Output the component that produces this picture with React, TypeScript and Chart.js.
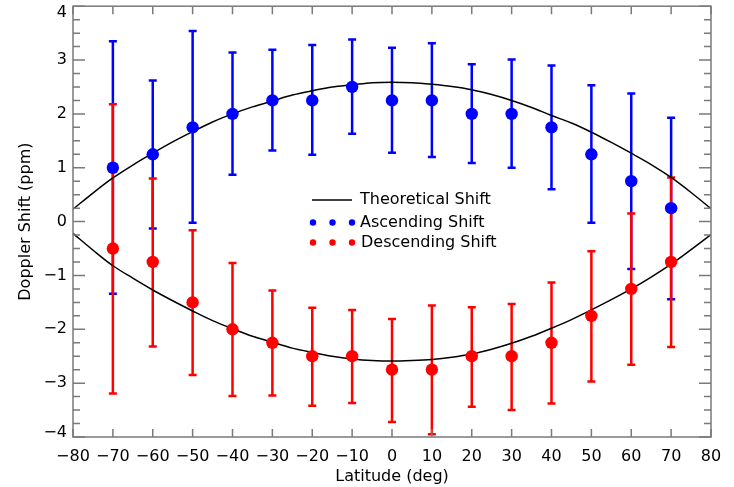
import React, { useEffect, useRef } from "react";
import { Chart, registerables } from "chart.js";

Chart.register(...registerables);

// ---- data ----
const latitudes = [-70, -60, -50, -40, -30, -20, -10, 0, 10, 20, 30, 40, 50, 60, 70];

const ascending = [1.0, 1.25, 1.75, 2.0, 2.25, 2.25, 2.5, 2.25, 2.25, 2.0, 2.0, 1.75, 1.25, 0.75, 0.25];
const ascendingHigh = [3.35, 2.62, 3.54, 3.14, 3.19, 3.28, 3.38, 3.23, 3.31, 2.92, 3.01, 2.9, 2.53, 2.38, 1.93];
const ascendingLow = [-1.34, -0.13, -0.02, 0.87, 1.32, 1.24, 1.63, 1.28, 1.2, 1.09, 1.0, 0.6, -0.02, -0.88, -1.44];

const descending = [-0.5, -0.75, -1.5, -2.0, -2.25, -2.5, -2.5, -2.75, -2.75, -2.5, -2.5, -2.25, -1.75, -1.25, -0.75];
const descendingHigh = [2.18, 0.8, -0.16, -0.77, -1.28, -1.6, -1.64, -1.81, -1.56, -1.59, -1.53, -1.13, -0.55, 0.15, 0.82];
const descendingLow = [-3.19, -2.32, -2.85, -3.24, -3.23, -3.42, -3.37, -3.72, -3.95, -3.44, -3.5, -3.38, -2.97, -2.66, -2.33];

const theoryLatitudes = [
  -80, -75, -70, -65, -60, -55, -50, -45, -40, -35, -30, -25, -20, -15, -10, -5, 0,
  5, 10, 15, 20, 25, 30, 35, 40, 45, 50, 55, 60, 65, 70, 75, 80,
];
const theoryUpper = [
  0.23, 0.53, 0.81, 1.05, 1.27, 1.48, 1.67, 1.85, 2.0, 2.13, 2.24, 2.35, 2.43, 2.5, 2.54, 2.58, 2.59,
  2.58, 2.55, 2.51, 2.45, 2.36, 2.25, 2.12, 1.97, 1.83, 1.66, 1.47, 1.27, 1.06, 0.82, 0.54, 0.24,
];
const theoryLower = [
  -0.22, -0.53, -0.82, -1.05, -1.27, -1.47, -1.66, -1.84, -1.99, -2.13, -2.24, -2.35, -2.43, -2.5, -2.55, -2.58, -2.59,
  -2.58, -2.56, -2.52, -2.46, -2.37, -2.26, -2.13, -1.98, -1.82, -1.64, -1.45, -1.25, -1.03, -0.79, -0.52, -0.24,
];

const yMinorTicks = [
  -3.75, -3.5, -3.25, -2.75, -2.5, -2.25, -1.75, -1.5, -1.25, -0.75, -0.5, -0.25,
  0.25, 0.5, 0.75, 1.25, 1.5, 1.75, 2.25, 2.5, 2.75, 3.25, 3.5, 3.75,
];

const legendLabels = ["Theoretical Shift", "Ascending Shift", "Descending Shift"];

const BLUE = "#0000ff";
const RED = "#ff0000";
const FRAME = "#7a7a7a";
const FONT = "'DejaVu Sans', sans-serif";

const fmt = (v: number) => (v < 0 ? "\u2212" + Math.abs(v) : String(v));

const errorBarPlugin = {
  id: "errorBars",
  beforeDatasetsDraw(chart: any) {
    const { ctx, scales } = chart;
    const xs = scales.x;
    const ys = scales.y;
    const drawSet = (hi: number[], lo: number[], color: string) => {
      ctx.save();
      ctx.strokeStyle = color;
      ctx.lineWidth = 2.5;
      ctx.beginPath();
      latitudes.forEach((lat, i) => {
        const px = xs.getPixelForValue(lat);
        const pHi = ys.getPixelForValue(hi[i]);
        const pLo = ys.getPixelForValue(lo[i]);
        ctx.moveTo(px, pHi);
        ctx.lineTo(px, pLo);
        ctx.moveTo(px - 4, pHi);
        ctx.lineTo(px + 4, pHi);
        ctx.moveTo(px - 4, pLo);
        ctx.lineTo(px + 4, pLo);
      });
      ctx.stroke();
      ctx.restore();
    };
    drawSet(ascendingHigh, ascendingLow, BLUE);
    drawSet(descendingHigh, descendingLow, RED);
  },
};

const framePlugin = {
  id: "frameTicks",
  afterDatasetsDraw(chart: any) {
    const { ctx, chartArea: a, scales } = chart;
    const xs = scales.x;
    const ys = scales.y;
    ctx.save();
    ctx.strokeStyle = FRAME;
    ctx.lineWidth = 1.5;
    ctx.strokeRect(a.left, a.top, a.right - a.left, a.bottom - a.top);
    ctx.beginPath();
    xs.ticks.forEach((t: any) => {
      const px = xs.getPixelForValue(t.value);
      ctx.moveTo(px, a.bottom);
      ctx.lineTo(px, a.bottom - 8);
      ctx.moveTo(px, a.top);
      ctx.lineTo(px, a.top + 8);
    });
    ys.ticks.forEach((t: any) => {
      const py = ys.getPixelForValue(t.value);
      ctx.moveTo(a.left, py);
      ctx.lineTo(a.left + 12, py);
      ctx.moveTo(a.right, py);
      ctx.lineTo(a.right - 12, py);
    });
    yMinorTicks.forEach((v) => {
      const py = ys.getPixelForValue(v);
      ctx.moveTo(a.left, py);
      ctx.lineTo(a.left + 7, py);
      ctx.moveTo(a.right, py);
      ctx.lineTo(a.right - 7, py);
    });
    ctx.stroke();

    // y tick labels (kept inside the frame's vertical extent, as in the original)
    ctx.fillStyle = "#000";
    ctx.font = "16px " + FONT;
    ctx.textAlign = "right";
    ctx.textBaseline = "middle";
    ys.ticks.forEach((t: any) => {
      const py = ys.getPixelForValue(t.value);
      const yy = Math.min(Math.max(py, a.top + 7), a.bottom - 4);
      ctx.fillText(fmt(Number(t.value)), a.left - 6, yy);
    });
    ctx.restore();
  },
};

const legendPlugin = {
  id: "innerLegend",
  afterDraw(chart: any) {
    const { ctx } = chart;
    ctx.save();
    ctx.strokeStyle = "#000";
    ctx.lineWidth = 1.5;
    ctx.beginPath();
    ctx.moveTo(312, 200);
    ctx.lineTo(352, 200);
    ctx.stroke();
    const dots = (y: number, color: string) => {
      ctx.fillStyle = color;
      [313, 332.5, 352].forEach((x) => {
        ctx.beginPath();
        ctx.arc(x, y, 3.2, 0, Math.PI * 2);
        ctx.fill();
      });
    };
    dots(222.5, BLUE);
    dots(242.5, RED);
    ctx.fillStyle = "#000";
    ctx.font = "16px " + FONT;
    ctx.textAlign = "left";
    ctx.textBaseline = "alphabetic";
    ctx.fillText(legendLabels[0], 360, 204);
    ctx.fillText(legendLabels[1], 360, 227);
    ctx.fillText(legendLabels[2], 361, 247);
    ctx.restore();
  },
};

export default function App() {
  const canvasRef = useRef<HTMLCanvasElement | null>(null);

  useEffect(() => {
    document.body.style.margin = "0";
    const canvas = canvasRef.current;
    if (!canvas) return;
    const toPts = (xs: number[], ys: number[]) => xs.map((x, i) => ({ x, y: ys[i] }));
    const chart = new Chart(canvas, {
      type: "scatter",
      data: {
        datasets: [
          {
            label: "Descending Shift",
            data: toPts(latitudes, descending),
            backgroundColor: RED,
            borderWidth: 0,
            pointRadius: 6.2,
            pointHoverRadius: 6.2,
          },
          {
            label: "Ascending Shift",
            data: toPts(latitudes, ascending),
            backgroundColor: BLUE,
            borderWidth: 0,
            pointRadius: 6.2,
            pointHoverRadius: 6.2,
          },
          {
            type: "line",
            label: "Theoretical Shift",
            data: toPts(theoryLatitudes, theoryUpper),
            borderColor: "#000",
            borderWidth: 1.5,
            pointRadius: 0,
            cubicInterpolationMode: "monotone",
            fill: false,
          },
          {
            type: "line",
            label: "Theoretical Shift (lower)",
            data: toPts(theoryLatitudes, theoryLower),
            borderColor: "#000",
            borderWidth: 1.5,
            pointRadius: 0,
            cubicInterpolationMode: "monotone",
            fill: false,
          },
        ],
      } as any,
      options: {
        responsive: false,
        animation: false,
        events: [],
        layout: { padding: { top: 6, right: 23, left: 0, bottom: 0 } },
        plugins: { legend: { display: false }, tooltip: { enabled: false } },
        scales: {
          x: {
            type: "linear",
            min: -80,
            max: 80,
            grid: { display: false, drawTicks: false },
            border: { display: false },
            ticks: {
              stepSize: 10,
              padding: 10,
              color: "#000",
              font: { family: FONT, size: 16 },
              maxRotation: 0,
              autoSkip: false,
              callback: (v: any) => fmt(Number(v)),
            },
            title: {
              display: true,
              text: "Latitude (deg)",
              color: "#000",
              font: { family: FONT, size: 16 },
              padding: { top: 0, bottom: 1 },
            },
            afterFit: (s: any) => {
              s.height = 50;
            },
          },
          y: {
            type: "linear",
            min: -4,
            max: 4,
            grid: { display: false, drawTicks: false },
            border: { display: false },
            ticks: {
              stepSize: 1,
              display: false,
            },
            title: {
              display: true,
              text: "Doppler Shift (ppm)",
              color: "#000",
              font: { family: FONT, size: 16 },
              padding: { top: 16, bottom: 0 },
            },
            afterFit: (s: any) => {
              s.width = 73;
              s.paddingTop = 0;
              s.paddingBottom = 0;
            },
          },
        },
      } as any,
      plugins: [errorBarPlugin, framePlugin, legendPlugin],
    });
    return () => chart.destroy();
  }, []);

  return (
    <div style={{ width: 734, height: 487, background: "#fff" }}>
      <canvas ref={canvasRef} width={734} height={487} style={{ display: "block" }} />
    </div>
  );
}
